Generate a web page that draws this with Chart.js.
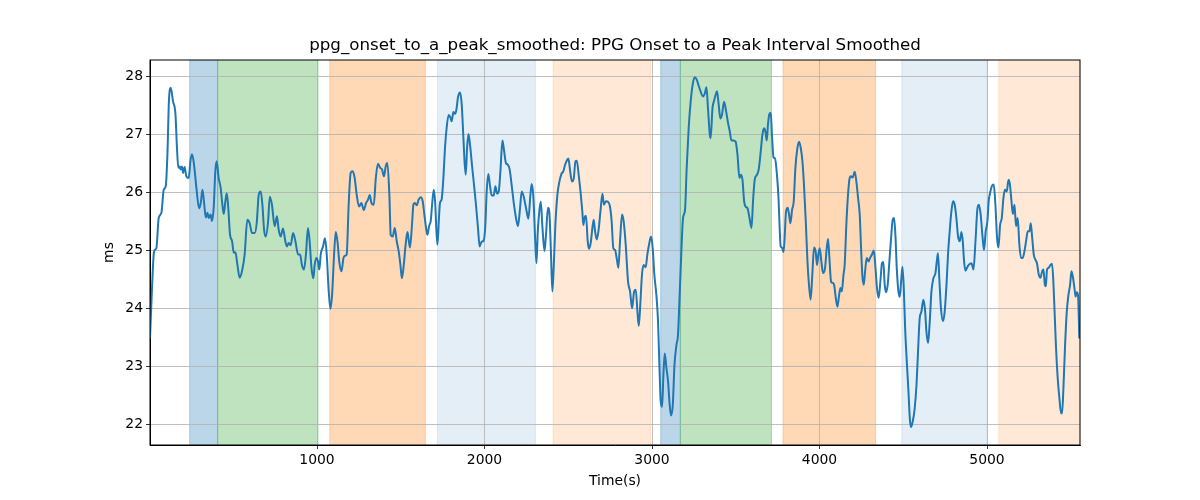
<!DOCTYPE html>
<html lang="en">
<head>
    <meta charset="UTF-8">
    <title>ppg_onset_to_a_peak_smoothed</title>
    <style>
        body {
            margin: 0;
            padding: 0;
            background: white;
        }
        #wrap {
            width: 1200px;
            height: 500px;
        }
    </style>
</head>
<body>
    <div id="wrap">
        <canvas id="chart" width="1200" height="500"></canvas>
    </div>

    <script src="https://cdn.jsdelivr.net/npm/chart.js"></script>
    <script>
        // time axis (s)
        const times = [
            3, 15, 27, 41, 55, 71, 85, 97, 107, 116, 127, 140, 155, 164, 172, 180, 186, 194, 200, 210,
            220, 234, 244, 254, 266, 280, 296, 306, 316, 325, 336, 346, 353, 365, 373, 383, 393, 401, 413, 425,
            433, 443, 453, 461, 469, 481, 493, 503, 513, 525, 538, 552, 568, 584, 598, 612, 628, 640, 652, 664,
            674, 684, 694, 708, 718, 731, 747, 761, 771, 783, 797, 811, 821, 831, 843, 857, 871, 887, 899, 910,
            922, 934, 946, 956, 967, 978, 986, 996, 1006, 1014, 1022, 1036, 1048, 1058, 1070, 1080, 1090, 1102, 1112, 1122,
            1134, 1146, 1158, 1167, 1177, 1189, 1201, 1213, 1225, 1237, 1251, 1265, 1279, 1293, 1305, 1315, 1325, 1339, 1351, 1364,
            1376, 1388, 1400, 1410, 1420, 1432, 1440, 1452, 1464, 1476, 1488, 1498, 1507, 1518, 1528, 1540, 1547, 1555, 1567, 1576,
            1585, 1595, 1607, 1619, 1631, 1641, 1651, 1659, 1669, 1679, 1687, 1697, 1705, 1713, 1719, 1727, 1734, 1744, 1755, 1764,
            1774, 1786, 1796, 1804, 1814, 1824, 1832, 1842, 1854, 1864, 1874, 1882, 1888, 1896, 1904, 1913, 1925, 1937, 1949, 1961,
            1971, 1982, 1995, 2005, 2013, 2023, 2033, 2043, 2055, 2065, 2075, 2085, 2095, 2107, 2116, 2128, 2140, 2150, 2164, 2176,
            2188, 2200, 2212, 2222, 2234, 2248, 2262, 2274, 2282, 2292, 2302, 2310, 2318, 2328, 2336, 2346, 2358, 2367, 2379, 2388,
            2397, 2405, 2413, 2423, 2435, 2447, 2459, 2471, 2481, 2491, 2501, 2510, 2522, 2533, 2543, 2551, 2562, 2574, 2584, 2590,
            2598, 2606, 2616, 2624, 2634, 2644, 2652, 2660, 2670, 2680, 2692, 2704, 2713, 2725, 2737, 2749, 2759, 2769, 2779, 2789,
            2799, 2809, 2821, 2831, 2843, 2857, 2869, 2881, 2893, 2903, 2913, 2921, 2931, 2940, 2950, 2962, 2972, 2982, 2994, 3004,
            3014, 3026, 3036, 3044, 3052, 3060, 3068, 3076, 3086, 3096, 3104, 3113, 3124, 3134, 3146, 3155, 3165, 3176, 3185, 3197,
            3207, 3219, 3231, 3243, 3255, 3267, 3279, 3291, 3303, 3315, 3325, 3334, 3345, 3350, 3361, 3370, 3380, 3388, 3398, 3408,
            3418, 3430, 3442, 3454, 3464, 3474, 3486, 3499, 3510, 3522, 3531, 3540, 3550, 3558, 3570, 3582, 3594, 3603, 3613, 3625,
            3637, 3649, 3659, 3669, 3677, 3685, 3692, 3701, 3709, 3716, 3725, 3734, 3744, 3755, 3762, 3768, 3776, 3785, 3792, 3800,
            3810, 3818, 3826, 3836, 3846, 3856, 3868, 3878, 3888, 3898, 3907, 3918, 3928, 3937, 3947, 3958, 3967, 3977, 3985, 3993,
            4001, 4011, 4021, 4033, 4043, 4051, 4059, 4069, 4079, 4087, 4097, 4107, 4117, 4125, 4133, 4143, 4150, 4161, 4170, 4180,
            4188, 4198, 4210, 4220, 4230, 4240, 4248, 4256, 4264, 4272, 4282, 4292, 4300, 4313, 4324, 4334, 4343, 4353, 4363, 4373,
            4381, 4389, 4397, 4407, 4417, 4427, 4437, 4445, 4453, 4461, 4471, 4479, 4487, 4495, 4503, 4511, 4521, 4531, 4539, 4546,
            4556, 4568, 4579, 4588, 4598, 4608, 4620, 4630, 4638, 4648, 4658, 4668, 4680, 4692, 4700, 4707, 4716, 4725, 4737, 4747,
            4758, 4767, 4777, 4787, 4797, 4807, 4817, 4827, 4837, 4847, 4855, 4863, 4871, 4887, 4907, 4919, 4931, 4943, 4952, 4962,
            4973, 4982, 4992, 5002, 5010, 5020, 5030, 5040, 5050, 5060, 5068, 5078, 5088, 5098, 5107, 5118, 5128, 5136, 5146, 5154,
            5164, 5173, 5183, 5193, 5203, 5213, 5223, 5233, 5243, 5253, 5261, 5269, 5279, 5289, 5298, 5309, 5319, 5329, 5337, 5345,
            5351, 5358, 5368, 5379, 5388, 5396, 5404, 5412, 5422, 5432, 5442, 5448, 5456, 5466, 5476, 5486, 5496, 5504, 5512, 5522,
            5529, 5535, 5543, 5551
        ];

        // smoothed onset-to-peak interval (ms)
        const intervalMs = [
            23.48, 24.35, 24.98, 25.04, 25.56, 25.65, 26.05, 26.11, 26.66, 27.58, 27.81, 27.58, 27.35, 26.77, 26.43, 26.45, 26.40, 26.45, 26.34, 26.44,
            26.28, 26.25, 26.54, 26.66, 26.48, 26.08, 25.73, 25.82, 26.05, 25.85, 25.57, 25.65, 25.56, 25.62, 25.51, 25.73, 26.37, 26.54, 26.25, 26.08,
            25.85, 25.63, 25.85, 25.99, 25.79, 25.27, 25.16, 24.96, 24.97, 24.75, 24.53, 24.64, 24.93, 25.53, 25.47, 25.30, 25.30, 25.47, 25.96, 26.02,
            25.79, 25.36, 25.24, 25.50, 25.93, 25.79, 25.42, 25.59, 25.36, 25.24, 25.38, 25.16, 25.07, 25.13, 25.09, 25.30, 25.16, 24.93, 24.93, 24.75,
            24.67, 24.93, 25.39, 25.16, 24.70, 24.52, 24.75, 24.87, 24.81, 24.67, 24.93, 25.07, 25.21, 24.93, 24.29, 23.99, 24.23, 24.93, 25.32, 25.16,
            24.78, 24.64, 24.87, 24.91, 24.93, 25.79, 26.34, 26.37, 26.25, 25.96, 25.76, 25.82, 25.70, 25.82, 25.88, 25.96, 25.82, 25.79, 26.25, 26.50,
            26.43, 26.40, 26.28, 26.45, 26.51, 25.96, 25.27, 25.24, 25.39, 25.16, 24.98, 24.75, 24.52, 24.75, 25.07, 25.32, 25.19, 25.05, 25.44, 25.80,
            25.82, 25.78, 25.88, 25.92, 25.85, 25.62, 25.39, 25.27, 25.42, 25.51, 25.79, 26.05, 25.85, 25.33, 25.10, 25.50, 25.82, 25.88, 26.28, 26.77,
            27.12, 27.34, 27.30, 27.23, 27.39, 27.36, 27.43, 27.65, 27.73, 27.52, 26.94, 26.48, 26.31, 26.77, 27.01, 26.84, 26.48, 26.14, 25.79, 25.39,
            25.07, 25.15, 25.17, 25.44, 26.02, 26.32, 26.11, 25.95, 25.95, 26.11, 25.98, 26.02, 26.37, 26.90, 26.74, 26.51, 26.48, 26.40, 26.08, 25.79,
            25.56, 25.42, 25.73, 26.02, 25.93, 25.73, 25.55, 25.96, 26.15, 25.91, 25.21, 24.78, 25.33, 25.70, 25.84, 25.39, 24.99, 25.27, 25.74, 25.62,
            24.93, 24.29, 24.70, 25.44, 25.96, 26.19, 26.32, 26.37, 26.48, 26.55, 26.59, 26.40, 26.19, 26.25, 26.54, 26.55, 26.31, 25.99, 25.67, 25.44,
            25.57, 25.60, 25.16, 25.03, 25.13, 25.39, 25.53, 25.33, 25.19, 25.33, 25.67, 25.98, 25.79, 25.85, 25.84, 25.76, 25.50, 25.04, 25.01, 24.87,
            24.70, 25.16, 25.62, 25.50, 25.10, 24.46, 24.29, 24.00, 24.29, 24.32, 23.94, 23.70, 24.12, 24.58, 24.75, 24.71, 24.93, 25.10, 25.24, 25.04,
            24.58, 24.23, 23.77, 23.02, 22.39, 22.30, 22.85, 23.22, 22.97, 22.73, 22.39, 22.15, 22.33, 23.02, 23.37, 23.54, 24.23, 25.04, 25.56, 25.70,
            26.43, 27.12, 27.58, 27.87, 27.99, 27.95, 27.84, 27.74, 27.66, 27.71, 27.82, 27.46, 27.00, 26.94, 27.46, 27.58, 27.69, 27.75, 27.52, 27.28,
            27.35, 27.57, 27.41, 27.20, 27.06, 26.90, 26.90, 26.88, 26.66, 26.25, 26.31, 26.22, 25.85, 25.76, 25.73, 25.56, 25.39, 25.85, 26.22, 26.30,
            26.40, 26.71, 27.00, 27.11, 27.05, 26.90, 27.17, 27.36, 27.38, 27.00, 26.61, 26.59, 26.37, 25.91, 25.39, 25.07, 25.05, 24.97, 25.24, 25.67,
            25.74, 25.62, 25.47, 25.70, 25.85, 26.43, 26.77, 26.88, 26.77, 26.54, 26.14, 25.50, 24.81, 24.41, 24.15, 24.64, 25.05, 24.98, 24.75, 24.93,
            25.04, 24.81, 24.61, 24.70, 25.04, 25.20, 24.87, 24.46, 24.44, 24.41, 24.18, 24.03, 24.23, 24.35, 24.29, 24.58, 24.75, 25.50, 25.96, 26.25,
            26.28, 26.26, 26.36, 26.19, 25.91, 25.62, 25.04, 24.55, 24.41, 24.64, 24.87, 24.81, 24.86, 24.93, 25.00, 24.70, 24.35, 24.18, 24.46, 24.78,
            24.80, 24.41, 24.28, 24.41, 24.81, 25.21, 25.53, 25.56, 25.27, 24.70, 24.29, 24.20, 24.46, 24.72, 24.35, 23.66, 23.08, 22.56, 22.10, 21.95,
            22.04, 22.27, 22.68, 23.25, 23.83, 23.94, 24.15, 23.97, 23.60, 23.40, 23.77, 24.29, 24.52, 24.61, 24.81, 24.95, 24.46, 24.00, 23.78, 23.94,
            24.41, 24.93, 25.33, 25.67, 25.85, 25.79, 25.56, 25.24, 25.16, 25.32, 25.16, 24.81, 24.65, 24.74, 24.78, 24.67, 25.16, 25.73, 25.79, 25.62,
            25.24, 25.01, 25.33, 25.50, 25.85, 26.02, 26.12, 26.14, 25.79, 25.21, 25.05, 25.44, 25.56, 25.91, 26.05, 26.02, 26.22, 26.15, 25.85, 25.63,
            25.79, 25.42, 25.56, 25.10, 24.87, 24.87, 24.98, 25.16, 25.33, 25.33, 25.47, 25.24, 24.93, 24.84, 24.78, 24.58, 24.53, 24.64, 24.67, 24.41,
            24.38, 24.67, 24.70, 24.75, 24.77, 24.46, 23.89, 23.31, 22.79, 22.45, 22.19, 22.19, 22.62, 23.37, 23.94, 24.23, 24.41, 24.64, 24.55, 24.35,
            24.20, 24.28, 24.23, 23.48
        ];

        // shaded segments
        const spanStart = [240, 407, 1076, 1719, 2409, 3052, 3169, 3782, 4491, 5070];
        const spanEnd   = [407, 1006, 1647, 2304, 2992, 3169, 3713, 4335, 5000, 5555];
        const spanKind  = ['blue', 'green', 'orange', 'lightblue', 'lightorange',
                           'blue', 'green', 'orange', 'lightblue', 'lightorange'];

        const xTicks = [1000, 2000, 3000, 4000, 5000];
        const yTicks = [22, 23, 24, 25, 26, 27, 28];

        const spanColors = {
            blue: 'rgba(31, 119, 180, 0.3)',
            green: 'rgba(44, 160, 44, 0.3)',
            orange: 'rgba(255, 127, 14, 0.3)',
            lightblue: 'rgba(31, 119, 180, 0.12)',
            lightorange: 'rgba(255, 127, 14, 0.17)'
        };

        const FONT = 'DejaVu Sans';

        // axvspan-like bands, drawn under the grid
        const spansPlugin = {
            id: 'spans',
            beforeDraw(chart) {
                const { ctx, chartArea, scales } = chart;
                ctx.save();
                for (let i = 0; i < spanStart.length; i++) {
                    const x0 = scales.x.getPixelForValue(spanStart[i]);
                    const x1 = Math.min(scales.x.getPixelForValue(spanEnd[i]), chartArea.right);
                    ctx.fillStyle = spanColors[spanKind[i]];
                    ctx.fillRect(x0, chartArea.top, x1 - x0, chartArea.bottom - chartArea.top);
                    ctx.strokeStyle = spanColors[spanKind[i]];
                    ctx.lineWidth = 1;
                    ctx.beginPath();
                    ctx.moveTo(x0, chartArea.top);
                    ctx.lineTo(x0, chartArea.bottom);
                    ctx.moveTo(x1, chartArea.top);
                    ctx.lineTo(x1, chartArea.bottom);
                    ctx.stroke();
                }
                ctx.restore();
            }
        };

        // frame and title
        const framePlugin = {
            id: 'frame',
            afterDraw(chart) {
                const { ctx, chartArea } = chart;
                ctx.save();
                ctx.strokeStyle = '#000';
                ctx.lineWidth = 1;
                ctx.strokeRect(chartArea.left, chartArea.top,
                    chartArea.right - chartArea.left, chartArea.bottom - chartArea.top);
                ctx.fillStyle = '#000';
                ctx.font = '16.7px "' + FONT + '"';
                ctx.textAlign = 'center';
                ctx.textBaseline = 'middle';
                ctx.fillText('ppg_onset_to_a_peak_smoothed: PPG Onset to a Peak Interval Smoothed',
                    (chartArea.left + chartArea.right) / 2, 46);
                ctx.restore();
            }
        };

        const points = times.map((t, i) => ({ x: t, y: intervalMs[i] }));

        new Chart(document.getElementById('chart'), {
            type: 'line',
            data: {
                datasets: [{
                    data: points,
                    borderColor: '#1f77b4',
                    borderWidth: 2,
                    pointRadius: 0,
                    cubicInterpolationMode: 'monotone',
                    fill: false
                }]
            },
            options: {
                responsive: false,
                animation: false,
                devicePixelRatio: 1,
                layout: {
                    padding: { top: 60, right: 120, bottom: 0, left: 0 }
                },
                plugins: {
                    legend: { display: false },
                    tooltip: { enabled: false }
                },
                scales: {
                    x: {
                        type: 'linear',
                        min: 3,
                        max: 5555,
                        afterBuildTicks: s => { s.ticks = xTicks.map(v => ({ value: v })); },
                        afterFit: s => { s.height = 55; },
                        grid: {
                            color: '#b0b0b0',
                            lineWidth: 0.8,
                            tickColor: '#000',
                            tickLength: 4
                        },
                        border: { display: true, color: '#000', width: 1 },
                        ticks: {
                            color: '#000',
                            font: { family: FONT, size: 13.9 },
                            padding: 3,
                            maxRotation: 0,
                            callback: v => String(v)
                        },
                        title: {
                            display: true,
                            text: 'Time(s)',
                            color: '#000',
                            font: { family: FONT, size: 13.9 },
                            padding: { top: 0, bottom: 10 }
                        }
                    },
                    y: {
                        type: 'linear',
                        min: 21.64,
                        max: 28.29,
                        afterBuildTicks: s => { s.ticks = yTicks.map(v => ({ value: v })); },
                        afterFit: s => { s.width = 150; },
                        grid: {
                            color: '#b0b0b0',
                            lineWidth: 0.8,
                            tickColor: '#000',
                            tickLength: 4
                        },
                        border: { display: true, color: '#000', width: 1 },
                        ticks: {
                            color: '#000',
                            font: { family: FONT, size: 13.9 },
                            padding: 3,
                            callback: v => String(v)
                        },
                        title: {
                            display: true,
                            text: 'ms',
                            color: '#000',
                            font: { family: FONT, size: 13.9 },
                            padding: { top: 101, bottom: 0 }
                        }
                    }
                }
            },
            plugins: [spansPlugin, framePlugin]
        });
    </script>
</body>
</html>
